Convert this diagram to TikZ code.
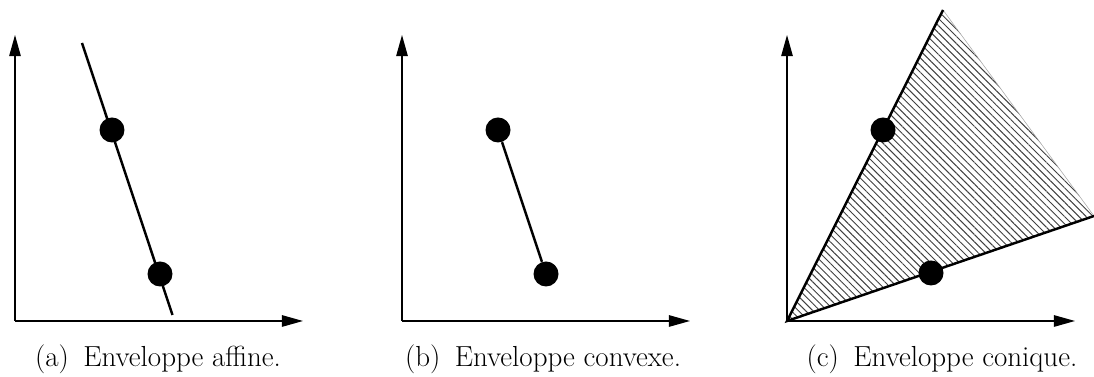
\documentclass[tikz,border=0pt]{standalone}
\usetikzlibrary{arrows.meta,patterns.meta}
\tikzset{
  axis/.style={line width=.8pt,-{Triangle[length=12pt,width=6.5pt]}},
  hull/.style={line width=1.4pt},
  dot/.style={circle,fill=black,inner sep=0pt,minimum size=.5cm},
  legend/.style={font=\fontsize{16.5}{19}\selectfont,anchor=base},
}
\begin{document}
\begin{tikzpicture}[x=.02cm,y=.02cm]
  \useasboundingbox (0,0) rectangle (1094,377);
  % cone (c), under everything
  \coordinate (oc) at (787,56);
  \coordinate (c1) at (943,367);
  \coordinate (c2) at (1094,161);
  \fill[pattern={Lines[angle=-45,distance=2.9pt,line width=.55pt]},pattern color=black!75]
    (oc) -- (c1) -- (c2) -- cycle;
  \draw[black!35,line width=.3pt] (c1) -- (c2);
  % axes
  \foreach \o/\n in {15/a,402/b,787/c} {
    \coordinate (o\n) at (\o,56);
    \draw[axis] (o\n) -- ++(0,286);
    \draw[axis] (o\n) -- ++(288,0);
  }
  % (a) affine
  \coordinate (a0) at (82,334);
  \coordinate (a3) at (172.5,62);
  \draw[hull] (a0) -- (a3);
  \node[dot] (a1) at (112,247) {};
  \node[dot] (a2) at (160,103) {};
  % (b) convexe
  \node[dot] (b1) at (498,247) {};
  \node[dot] (b2) at (546,103) {};
  \draw[hull] (b1) -- (b2);
  % (c) conique
  \draw[hull] (c1) -- (oc) -- (c2);
  \node[dot] (c3) at (883,247) {};
  \node[dot] (c4) at (931,104) {};
  % legends
  \node[legend] (la) at (158,10) {(a)\hspace{.5em}Enveloppe affine.};
  \node[legend] (lb) at (543,10) {(b)\hspace{.5em}Enveloppe convexe.};
  \node[legend] (lc) at (942,10) {(c)\hspace{.5em}Enveloppe conique.};
\end{tikzpicture}
\end{document}
